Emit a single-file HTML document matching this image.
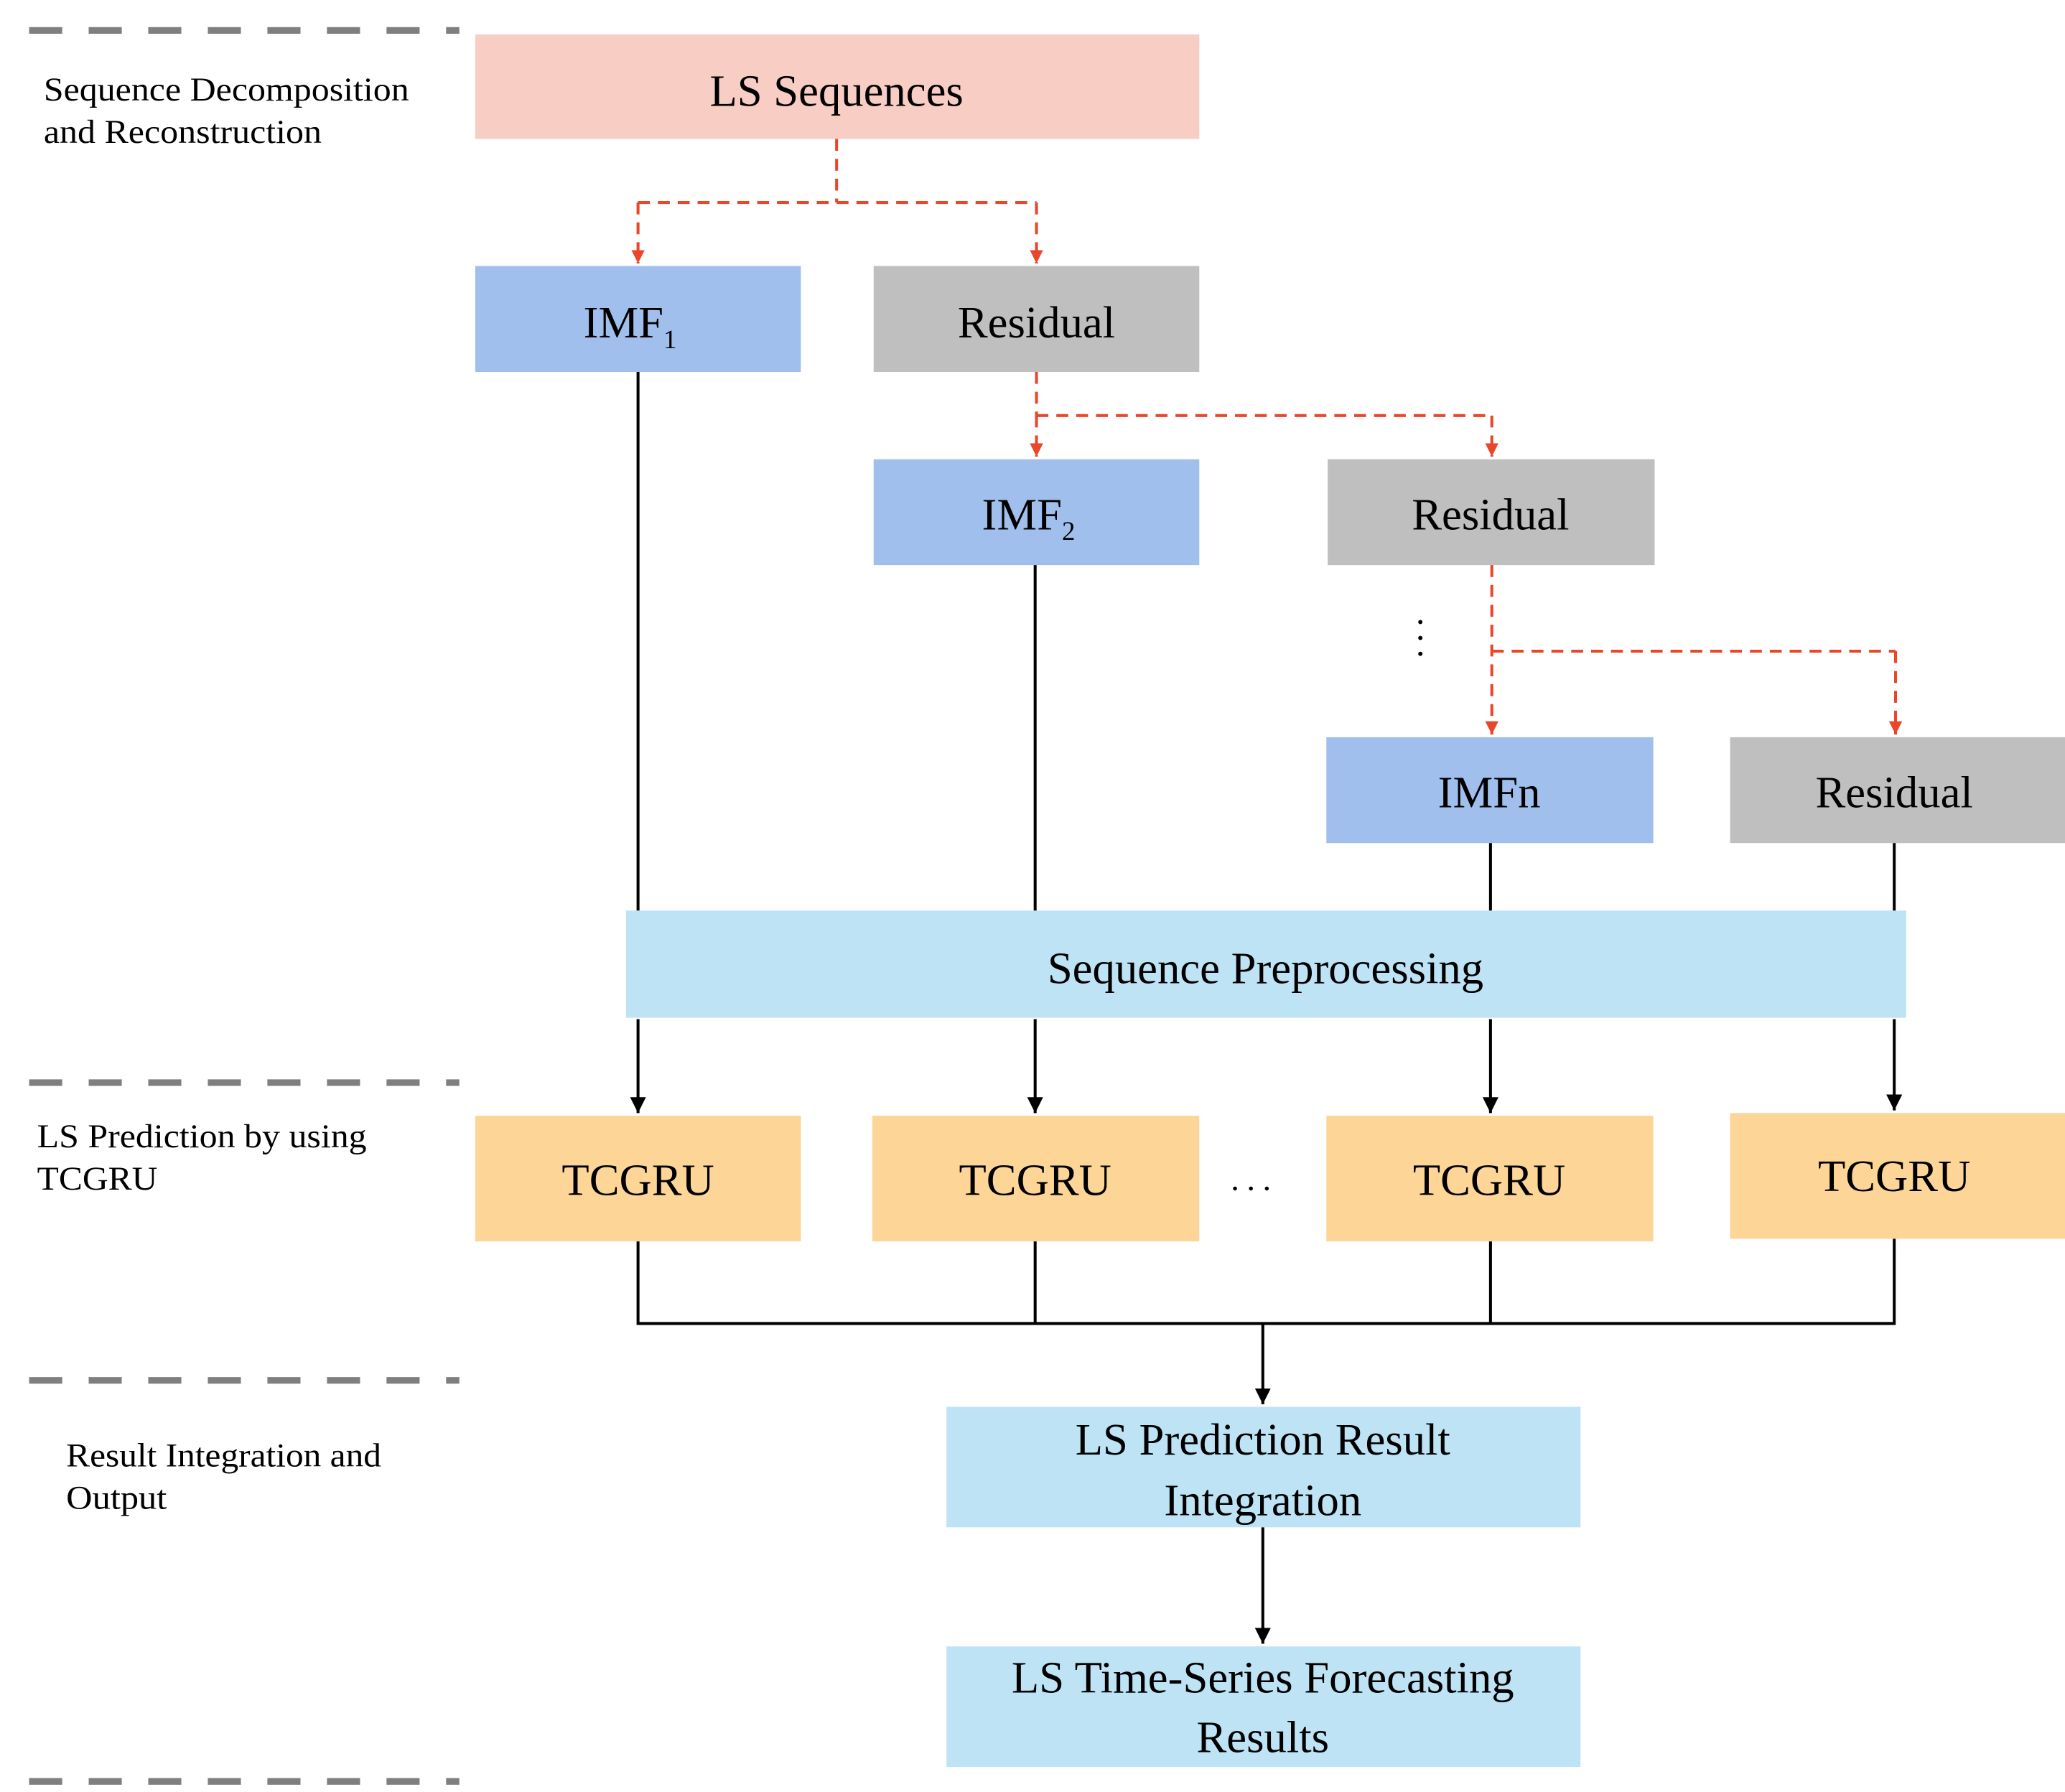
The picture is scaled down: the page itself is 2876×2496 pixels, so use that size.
<!DOCTYPE html>
<html><head><meta charset="utf-8"><style>html,body{margin:0;padding:0;background:#fff}svg{display:block}svg text{font-family:"Liberation Serif","DejaVu Serif",serif}</style></head>
<body>
<svg width="2876" height="2496" viewBox="0 0 1560 1354" preserveAspectRatio="none" xmlns="http://www.w3.org/2000/svg">
<defs>
<marker id="ar" viewBox="0 0 10 10" refX="10" refY="5" markerWidth="10" markerHeight="10" markerUnits="userSpaceOnUse" orient="auto"><path d="M0,0 L10,5 L0,10 z" fill="#e8472a"/></marker>
<marker id="ab" viewBox="0 0 10 10" refX="10" refY="5" markerWidth="12" markerHeight="12" markerUnits="userSpaceOnUse" orient="auto"><path d="M0,0 L10,5 L0,10 z" fill="#000"/></marker>
</defs>
<g stroke="#7f7f7f" stroke-width="5" stroke-dasharray="25 20">
<line x1="22" y1="23" x2="347" y2="23"/><line x1="22" y1="818" x2="347" y2="818"/>
<line x1="22" y1="1043" x2="347" y2="1043"/><line x1="22" y1="1346" x2="347" y2="1346"/>
</g>
<g font-size="25" fill="#000">
<text x="33" y="76" textLength="276" lengthAdjust="spacingAndGlyphs">Sequence Decomposition</text>
<text x="33" y="108" textLength="210" lengthAdjust="spacingAndGlyphs">and Reconstruction</text>
<text x="28" y="867" textLength="249" lengthAdjust="spacingAndGlyphs">LS Prediction by using</text>
<text x="28" y="899" textLength="91" lengthAdjust="spacingAndGlyphs">TCGRU</text>
<text x="50" y="1108" textLength="238" lengthAdjust="spacingAndGlyphs">Result Integration and</text>
<text x="50" y="1140" textLength="76" lengthAdjust="spacingAndGlyphs">Output</text>
</g>
<rect x="359" y="26" width="547" height="79" fill="#f8cdc4"/>
<rect x="359" y="201" width="246" height="80" fill="#a0bfec"/>
<rect x="660" y="201" width="246" height="80" fill="#bfbfbf"/>
<rect x="660" y="347" width="246" height="80" fill="#a0bfec"/>
<rect x="1003" y="347" width="247" height="80" fill="#bfbfbf"/>
<rect x="1002" y="557" width="247" height="80" fill="#a0bfec"/>
<rect x="1307" y="557" width="253" height="80" fill="#bfbfbf"/>
<rect x="473" y="688" width="967" height="81" fill="#bde3f5"/>
<rect x="359" y="843" width="246" height="95" fill="#fdd597"/>
<rect x="659" y="843" width="247" height="95" fill="#fdd597"/>
<rect x="1002" y="843" width="247" height="95" fill="#fdd597"/>
<rect x="1307" y="841" width="253" height="95" fill="#fdd597"/>
<rect x="715" y="1063" width="479" height="91" fill="#bde3f5"/>
<rect x="715" y="1244" width="479" height="91" fill="#bde3f5"/>
<g stroke="#e8472a" stroke-width="2.2" stroke-dasharray="9 6" fill="none">
<polyline points="632,105 632,153"/><polyline points="482,153 783,153"/>
<line x1="482" y1="153" x2="482" y2="199" marker-end="url(#ar)"/>
<line x1="783" y1="153" x2="783" y2="199" marker-end="url(#ar)"/>
<polyline points="783,281 783,314"/><polyline points="783,314 1127,314"/>
<line x1="783" y1="314" x2="783" y2="345" marker-end="url(#ar)"/>
<line x1="1127" y1="314" x2="1127" y2="345" marker-end="url(#ar)"/>
<line x1="1127" y1="427" x2="1127" y2="555" marker-end="url(#ar)"/>
<polyline points="1127,492 1432,492"/>
<line x1="1432" y1="492" x2="1432" y2="555" marker-end="url(#ar)"/>
</g>
<g fill="#000"><circle cx="1073" cy="470" r="1.6"/><circle cx="1073" cy="482" r="1.6"/><circle cx="1073" cy="494" r="1.6"/>
<circle cx="933" cy="898" r="1.5"/><circle cx="945" cy="898" r="1.5"/><circle cx="957" cy="898" r="1.5"/></g>
<g stroke="#000" stroke-width="2.2" fill="none">
<line x1="482" y1="281" x2="482" y2="688"/><line x1="782" y1="427" x2="782" y2="688"/>
<line x1="1126" y1="637" x2="1126" y2="688"/><line x1="1431" y1="637" x2="1431" y2="688"/>
<line x1="482" y1="770" x2="482" y2="841" marker-end="url(#ab)"/>
<line x1="782" y1="770" x2="782" y2="841" marker-end="url(#ab)"/>
<line x1="1126" y1="770" x2="1126" y2="841" marker-end="url(#ab)"/>
<line x1="1431" y1="770" x2="1431" y2="839" marker-end="url(#ab)"/>
<polyline points="482,938 482,1000 1431,1000 1431,936"/>
<line x1="782" y1="938" x2="782" y2="1000"/><line x1="1126" y1="938" x2="1126" y2="1000"/>
<line x1="954" y1="1000" x2="954" y2="1061" marker-end="url(#ab)"/>
<line x1="954" y1="1154" x2="954" y2="1242" marker-end="url(#ab)"/>
</g>
<g font-size="34" fill="#000" text-anchor="middle">
<text x="632" y="80">LS Sequences</text>
<text x="476" y="255">IMF<tspan font-size="20" dy="8">1</tspan></text>
<text x="783" y="255">Residual</text>
<text x="777" y="400">IMF<tspan font-size="20" dy="8">2</tspan></text>
<text x="1126" y="400">Residual</text>
<text x="1125" y="610">IMFn</text>
<text x="1431" y="610">Residual</text>
<text x="956" y="743">Sequence Preprocessing</text>
<text x="482" y="903">TCGRU</text>
<text x="782" y="903">TCGRU</text>
<text x="1125" y="903">TCGRU</text>
<text x="1431" y="900">TCGRU</text>
<text x="954" y="1099">LS Prediction Result</text>
<text x="954" y="1145">Integration</text>
<text x="954" y="1279">LS Time-Series Forecasting</text>
<text x="954" y="1324">Results</text>
</g>
</svg>
</body></html>
